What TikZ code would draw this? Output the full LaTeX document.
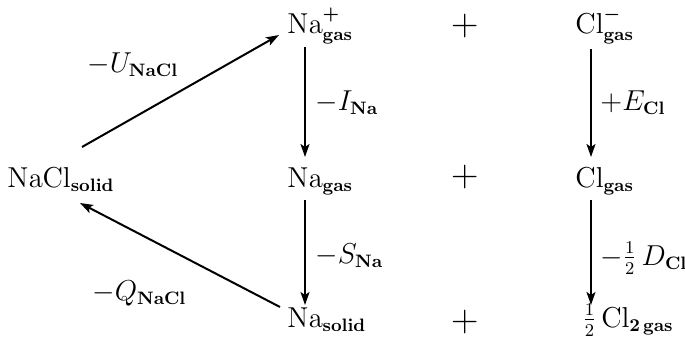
\documentclass[tikz,border=0pt]{standalone}
\usepackage{amsmath}
\usetikzlibrary{arrows.meta}
\DeclareMathSizes{14.5}{14.5}{9.5}{7}
\begin{document}
\begin{tikzpicture}[x=0.5pt,y=-0.5pt,
  font=\fontsize{14.5}{17}\selectfont,
  chem/.style={anchor=base west, inner sep=0pt},
  lbl/.style={anchor=base west, inner sep=0pt},
  plussign/.style={font=\fontsize{19}{20}\selectfont, inner sep=0pt},
  arr/.style={line width=1pt, -{Stealth[length=6.5pt,width=4.5pt,inset=1.5pt]}}]
\useasboundingbox (0,0) rectangle (685,344);
% species
\node[chem] (nacl) at (7,187) {$\mathrm{NaCl}_{\mathbf{solid}}$};
\node[chem] (napg) at (287,33) {$\mathrm{Na}^{\boldsymbol{+}}_{\mathbf{gas}}$};
\node[chem] (nag)  at (287,187) {$\mathrm{Na}_{\mathbf{gas}}$};
\node[chem] (nas)  at (287,327) {$\mathrm{Na}_{\mathbf{solid}}$};
\node[chem] (clmg) at (575,33) {$\mathrm{Cl}^{\boldsymbol{-}}_{\mathbf{gas}}$};
\node[chem] (clg)  at (575,187) {$\mathrm{Cl}_{\mathbf{gas}}$};
\node[chem] (cl2)  at (582,327) {$\tfrac12\,\mathrm{Cl}_{\mathbf{2\,gas}}$};
% plus signs
\node[plussign] (p1) at (465,26) {+};
\node[plussign] (p2) at (465,177) {+};
\node[plussign] (p3) at (465,322) {+};
% vertical arrows
\draw[arr] ([shift={(18,14)}]napg.base west) -- ([shift={(18,-30)}]nag.base west);
\draw[arr] ([shift={(18,13)}]nag.base west) -- ([shift={(18,-22)}]nas.base west);
\draw[arr] ([shift={(16,16)}]clmg.base west) -- ([shift={(16,-30)}]clg.base west);
\draw[arr] ([shift={(16,13)}]clg.base west) -- ([shift={(9,-22)}]cl2.base west);
% diagonal arrows
\draw[arr] ([shift={(75,-40)}]nacl.base west) -- ([shift={(-8,2)}]napg.base west);
\draw[arr] ([shift={(-7,-20)}]nas.base west) -- ([shift={(73,16)}]nacl.base west);
% labels
\node[lbl] (lu) at (87,72) {$-U_{\mathbf{NaCl}}$};
\node[lbl] (li) at (315,110) {$-I_{\mathbf{Na}}$};
\node[lbl] (le) at (600,110) {$+E_{\mathbf{Cl}}$};
\node[lbl] (ls) at (315,263) {$-S_{\mathbf{Na}}$};
\node[lbl] (ld) at (600,265) {$-\tfrac12\,D_{\mathbf{Cl}}$};
\node[lbl] (lq) at (92,300) {$-Q_{\mathbf{NaCl}}$};
\end{tikzpicture}
\end{document}
